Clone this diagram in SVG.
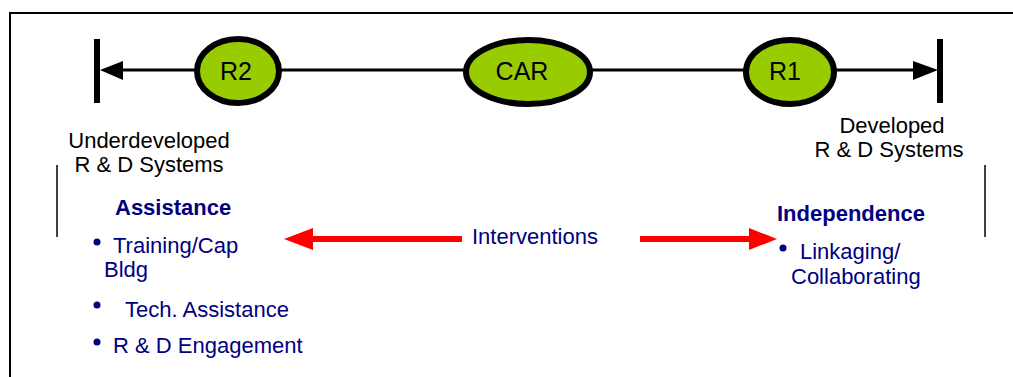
<svg xmlns="http://www.w3.org/2000/svg" width="1013" height="377" viewBox="0 0 1013 377">
<defs>
<style>
.node{fill:#99CC00;stroke:#000;stroke-width:6}
.nt{font-family:"Liberation Sans",Arial,sans-serif;font-size:25px;fill:#000;text-anchor:middle}
.lbl{font-family:"Liberation Sans",Arial,sans-serif;font-size:22px;fill:#000;text-anchor:middle}
.blue{font-family:"Liberation Sans",Arial,sans-serif;font-size:22px;fill:#000080}
.bold{font-weight:bold}
.dot{fill:#000080}
</style>
</defs>
<rect width="1013" height="377" fill="#fff"/>
<g id="frame" stroke="#000" fill="none">
<path d="M10,377 V13 H1013" stroke-width="2"/>
<line x1="57" y1="165" x2="57" y2="237" stroke-width="1.5"/>
<line x1="985" y1="165" x2="985" y2="237" stroke-width="1.5"/>
</g>
<g id="connectors">
<line x1="118" y1="70" x2="918" y2="70" stroke="#000" stroke-width="3"/>
<line x1="97" y1="39" x2="97" y2="103" stroke="#000" stroke-width="6"/>
<line x1="940" y1="39" x2="940" y2="103" stroke="#000" stroke-width="6"/>
<polygon points="100,70 123,61 123,80" fill="#000"/>
<polygon points="938,70 913,61 913,80" fill="#000"/>
<g id="interventions-arrows" fill="#FF0000">
<rect x="310" y="236" width="152" height="6"/>
<polygon points="284,239 313,228 313,250"/>
<rect x="640" y="236" width="112" height="6"/>
<polygon points="777,239 749,228 749,250"/>
</g>
</g>
<g id="R2">
<ellipse class="node" cx="238" cy="71" rx="41" ry="32"/>
<text class="nt" x="236" y="80">R2</text>
</g>
<g id="CAR">
<ellipse class="node" cx="528" cy="72" rx="62" ry="32"/>
<text class="nt" x="522" y="80">CAR</text>
</g>
<g id="R1">
<ellipse class="node" cx="790" cy="72" rx="44" ry="32"/>
<text class="nt" x="785" y="80">R1</text>
</g>
<g id="underdeveloped">
<text class="lbl" x="149" y="148">Underdeveloped</text>
<text class="lbl" x="149" y="172">R &amp; D Systems</text>
</g>
<g id="developed">
<text class="lbl" x="892" y="133">Developed</text>
<text class="lbl" x="889" y="157">R &amp; D Systems</text>
</g>
<g id="assistance">
<text class="blue bold" x="115" y="215">Assistance</text>
<circle class="dot" cx="97" cy="242" r="3.5"/>
<text class="blue" x="113" y="253">Training/Cap</text>
<text class="blue" x="104" y="277">Bldg</text>
<circle class="dot" cx="97" cy="305" r="3.5"/>
<text class="blue" x="125" y="317">Tech. Assistance</text>
<circle class="dot" cx="97" cy="342" r="3.5"/>
<text class="blue" x="113" y="353">R &amp; D Engagement</text>
</g>
<g id="interventions">
<text class="blue" x="472" y="244">Interventions</text>
</g>
<g id="independence">
<text class="blue bold" x="777" y="221">Independence</text>
<circle class="dot" cx="783" cy="248" r="3.5"/>
<text class="blue" x="800" y="259">Linkaging/</text>
<text class="blue" x="791" y="284">Collaborating</text>
</g>
</svg>
